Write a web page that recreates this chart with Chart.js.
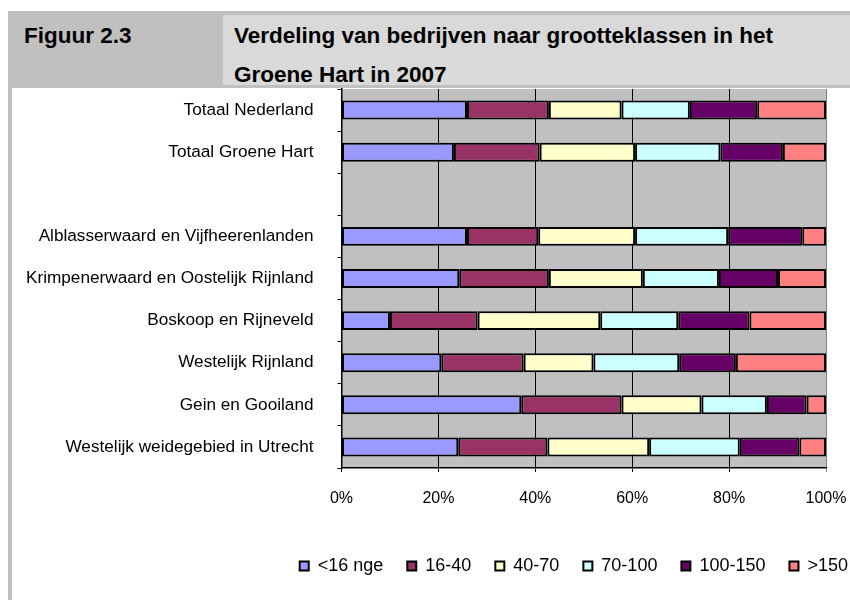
<!DOCTYPE html>
<html>
<head>
<meta charset="utf-8">
<script src="https://cdn.jsdelivr.net/npm/chart.js@4.4.1/dist/chart.umd.min.js"></script>
<style>
    html, body { margin: 0; padding: 0; width: 850px; height: 600px; overflow: hidden; background: #fff; }
    .frame { position: absolute; left: 8px; top: 11px; width: 842px; height: 77px; background: #c0c0c0; }
    .title-box { position: absolute; left: 223px; top: 15px; width: 627px; height: 70px; background: #d9d9d9; }
    .side { position: absolute; left: 8px; top: 88px; width: 4px; height: 512px; background: #c0c0c0; }
    .hdr { position: absolute; font-family: 'Liberation Sans', Arial, sans-serif; font-weight: bold; font-size: 22.5px; line-height: 39px; color: #000; white-space: nowrap; }
    #chart { position: absolute; left: 0; top: 88px; }
</style>
</head>
<body>
<div class="frame"></div>
<div class="title-box"></div>
<div class="side"></div>
<div class="hdr" style="left:24px; top:16px;">Figuur 2.3</div>
<div class="hdr" style="left:234px; top:16px;">Verdeling van bedrijven naar grootteklassen in het<br>Groene Hart in 2007</div>
<canvas id="chart" width="872" height="512"></canvas>
<script>
    const regions = [
        'Totaal Nederland',
        'Totaal Groene Hart',
        '',
        'Alblasserwaard en Vijfheerenlanden',
        'Krimpenerwaard en Oostelijk Rijnland',
        'Boskoop en Rijneveld',
        'Westelijk Rijnland',
        'Gein en Gooiland',
        'Westelijk weidegebied in Utrecht'
    ];
    const sizeClasses = ['<16 nge', '16-40', '40-70', '70-100', '100-150', '>150'];
    const classColors = ['#9999ff', '#993366', '#ffffcc', '#ccffff', '#660066', '#ff8080'];

    // share (%) of each size class per region, the empty row is a spacer
    const under16 = [25.9, 23.2, null, 25.9, 24.3, 10.0, 20.6, 37.1, 24.1];
    const from16to40 = [16.9, 17.7, null, 14.7, 18.5, 18.1, 17.0, 20.7, 18.4];
    const from40to70 = [15.0, 19.7, null, 20.0, 19.4, 25.3, 14.4, 16.5, 21.0];
    const from70to100 = [14.1, 17.6, null, 19.2, 15.7, 16.1, 17.7, 13.5, 18.7];
    const from100to150 = [13.9, 12.9, null, 15.3, 12.2, 14.7, 11.7, 8.2, 12.3];
    const over150 = [14.2, 8.9, null, 4.9, 9.9, 15.8, 18.6, 4.0, 5.5];

    const xTicks = [0, 20, 40, 60, 80, 100];

    const seriesValues = [under16, from16to40, from40to70, from70to100, from100to150, over150];
    const fontFamily = "'Liberation Sans', Arial, sans-serif";

    const plotBackground = {
        id: 'plotBackground',
        beforeDraw(chart) {
            const { ctx, chartArea: a } = chart;
            ctx.save();
            ctx.fillStyle = '#c0c0c0';
            ctx.fillRect(a.left, a.top, a.right - a.left, a.bottom - a.top);
            ctx.restore();
        }
    };

    new Chart(document.getElementById('chart').getContext('2d'), {
        type: 'bar',
        data: {
            labels: regions,
            datasets: sizeClasses.map((name, i) => ({
                label: name,
                data: seriesValues[i],
                backgroundColor: classColors[i],
                borderColor: '#000',
                borderWidth: 2,
                borderSkipped: false,
                barPercentage: 0.45,
                categoryPercentage: 1
            }))
        },
        options: {
            indexAxis: 'y',
            responsive: false,
            animation: false,
            layout: { padding: { top: 1, left: 0, right: 0, bottom: 15 } },
            plugins: {
                tooltip: { enabled: false },
                legend: {
                    position: 'bottom',
                    align: 'end',
                    labels: {
                        boxWidth: 9,
                        boxHeight: 9,
                        padding: 24,
                        color: '#000',
                        font: { family: fontFamily, size: 18 }
                    }
                }
            },
            scales: {
                x: {
                    stacked: true,
                    min: 0,
                    max: 100,
                    afterBuildTicks: (scale) => { scale.ticks = xTicks.map(v => ({ value: v })); },
                    afterFit: (scale) => { scale.height = 65; scale.paddingRight = 46; scale.paddingLeft = 0; },
                    grid: {
                        color: (c) => c.index === xTicks.length - 1 ? '#808080' : '#000',
                        lineWidth: 1,
                        tickLength: 4
                    },
                    border: { color: '#000', width: 1.5 },
                    ticks: {
                        color: '#000',
                        padding: 17,
                        font: { family: fontFamily, size: 16 },
                        callback: (v) => v + '%'
                    }
                },
                y: {
                    stacked: true,
                    afterFit: (scale) => { scale.width = 341.5; scale.paddingTop = 0; scale.paddingBottom = 0; },
                    grid: { drawOnChartArea: false, tickLength: 4, color: '#000', offset: true },
                    border: { color: '#000', width: 1.5 },
                    ticks: {
                        color: '#000',
                        padding: 24,
                        font: { family: fontFamily, size: 17.2 }
                    }
                }
            }
        },
        plugins: [plotBackground]
    });
</script>
</body>
</html>
